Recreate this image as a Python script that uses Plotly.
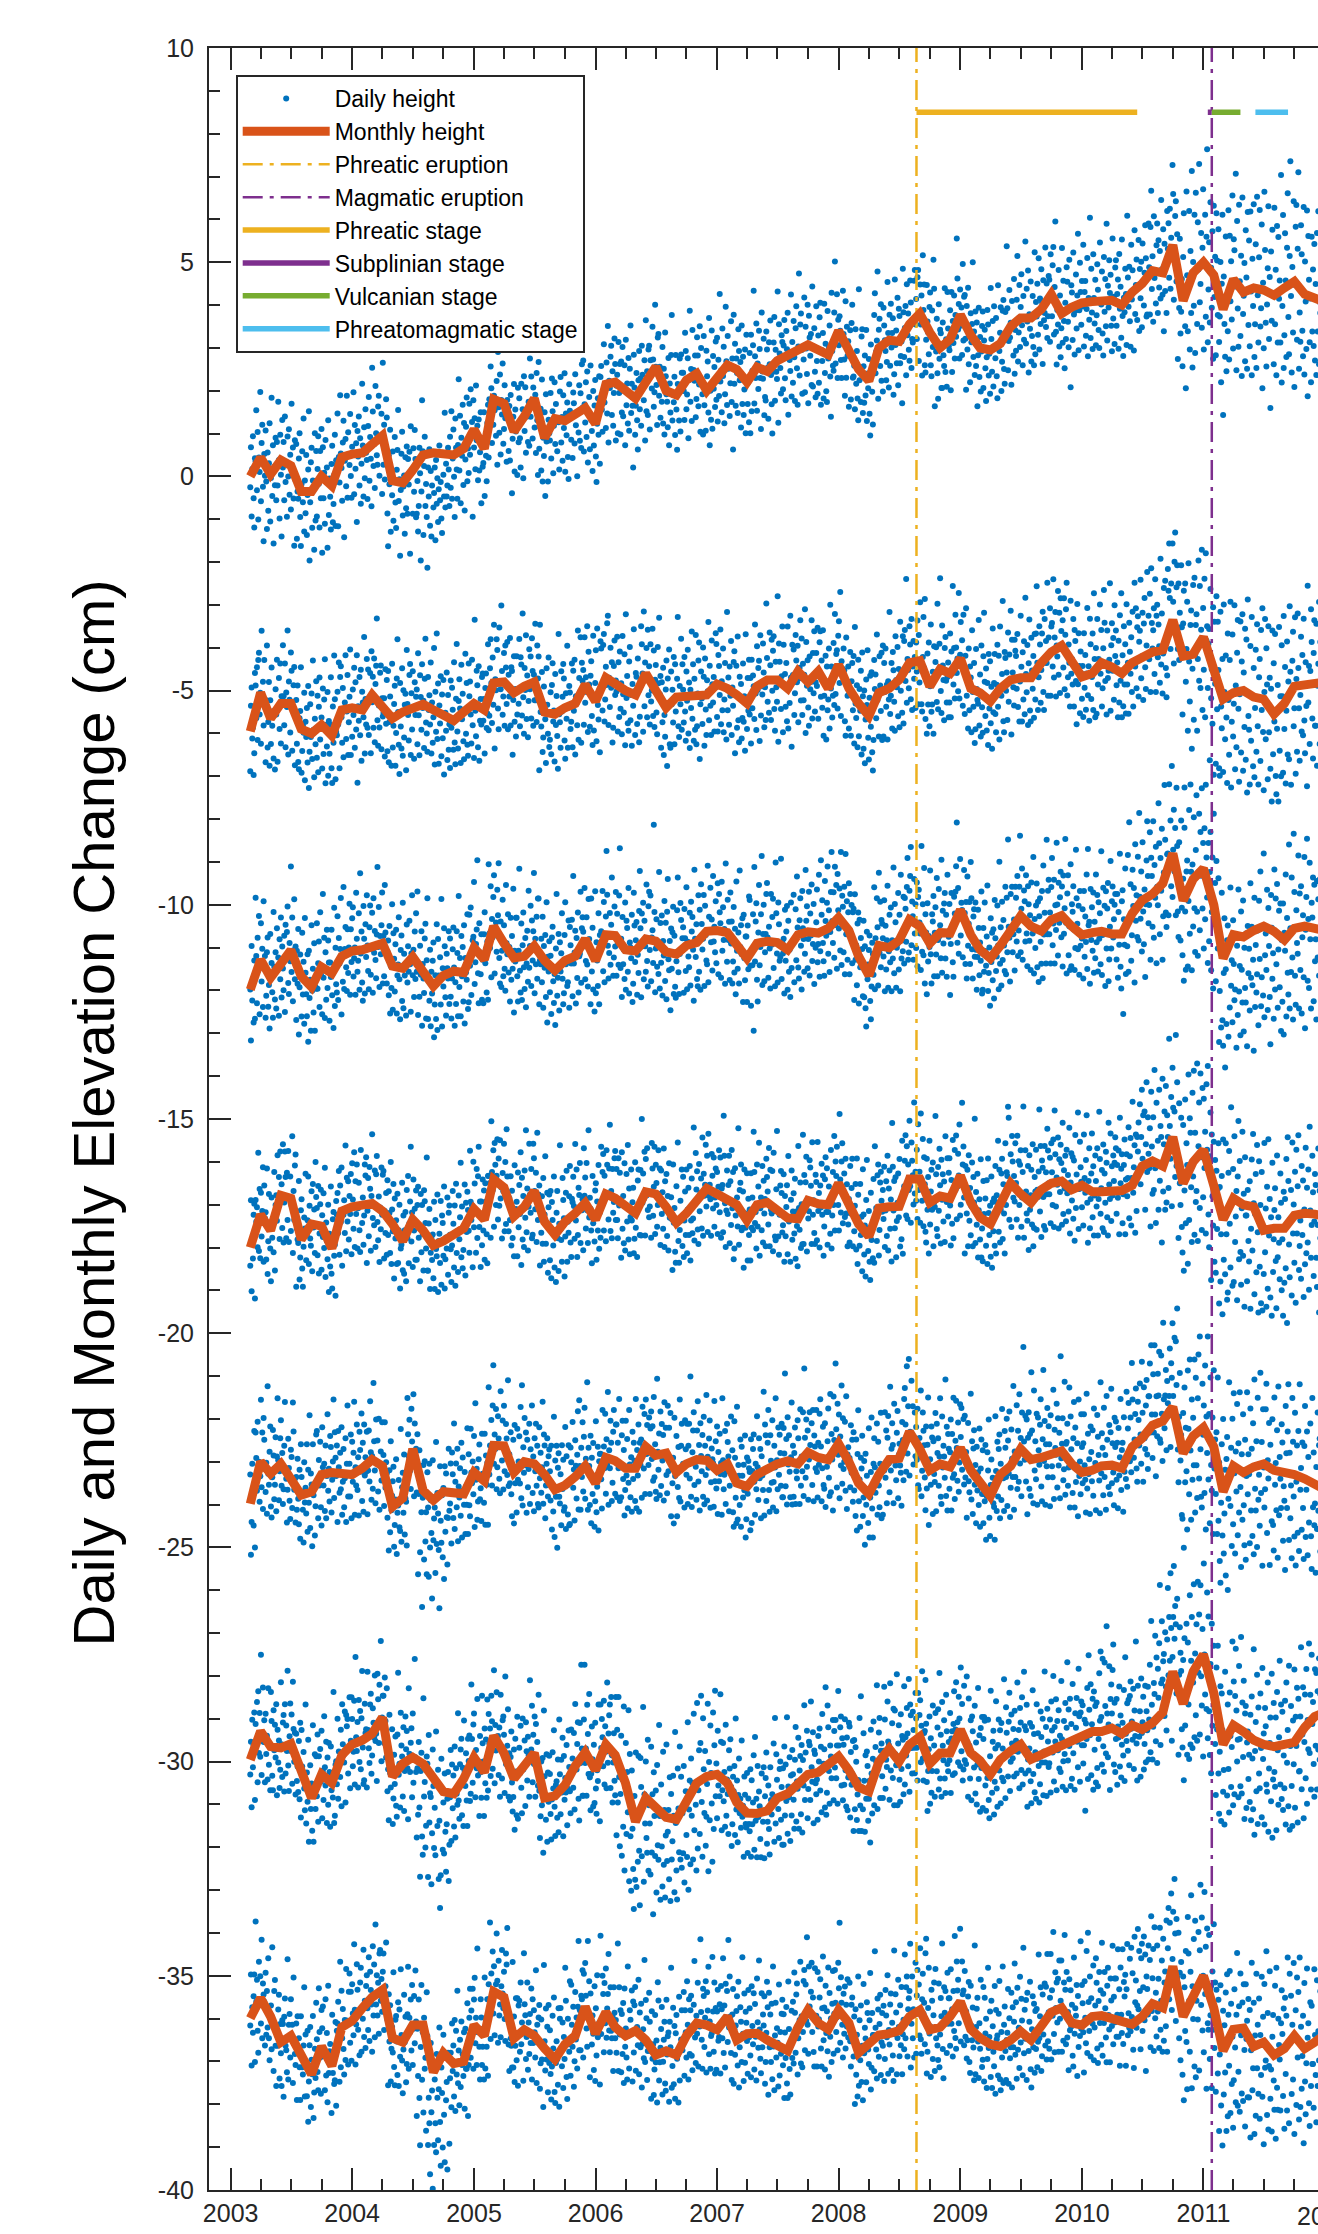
import numpy as np
import pandas as pd
import plotly.graph_objects as go

FONT = "Liberation Sans, Arial, Helvetica, sans-serif"
AXIS_COLOR = "#262626"
BLUE = "#0072BD"
ORANGE = "#D95319"

# ---------------- data ----------------
MONTH_START = "2003-03-01"
DAY_STEP = 2            # daily samples plotted every 2 days
CODE_CENTER = 50        # daily residual codes: (code-50)*step cm about the monthly value
CODE_STEP = 0.085

s1_monthly = [0.0, 0.44, 0.05, 0.38, 0.25, -0.35, -0.35, 0.0, -0.22, 0.45,
              0.52, 0.55, 0.75, 0.95, -0.1, -0.15, 0.15, 0.5, 0.55, 0.55,
              0.5, 0.65, 1.1, 0.65, 1.8, 1.7, 1.05, 1.4, 1.82, 0.9,
              1.35, 1.3, 1.45, 1.6, 1.23, 2.15, 2.2, 2.0, 1.82, 2.2,
              2.56, 2.0, 1.9, 2.25, 2.4, 2.0, 2.3, 2.6, 2.5, 2.2,
              2.55, 2.45, 2.7, 2.8, 2.95, 3.07, 2.95, 2.84, 3.4, 2.9,
              2.5, 2.23, 3.0, 3.18, 3.15, 3.55, 3.8, 3.36, 3.0, 3.2,
              3.77, 3.3, 3.0, 2.95, 3.1, 3.5, 3.7, 3.7, 3.9, 4.25,
              3.8, 3.95, 4.05, 4.08, 4.1, 4.11, 4.0, 4.3, 4.5, 4.8,
              4.75, 5.4, 4.1, 4.75, 5.0, 4.7, 3.9, 4.6, 4.3, 4.4,
              4.35, 4.23, 4.4, 4.55, 4.25, 4.15, 4.07]
s2_monthly = [-5.95, -5.05, -5.65, -5.3, -5.3, -5.9, -6.0, -5.8, -6.05, -5.45,
              -5.4, -5.45, -5.1, -5.35, -5.65, -5.5, -5.4, -5.32, -5.45, -5.6,
              -5.7, -5.5, -5.3, -5.45, -4.82, -4.8, -5.05, -4.9, -4.8, -5.5,
              -5.55, -5.4, -5.3, -4.86, -5.25, -4.7, -4.85, -5.0, -5.1, -4.6,
              -5.0, -5.4, -5.15, -5.15, -5.15, -5.1, -4.85, -4.95, -5.1, -5.3,
              -4.9, -4.75, -4.75, -4.95, -4.55, -4.8, -4.55, -4.95, -4.4, -4.95,
              -5.3, -5.59, -5.05, -4.95, -4.75, -4.35, -4.3, -4.9, -4.5, -4.6,
              -4.25, -4.95, -5.05, -5.25, -4.95, -4.75, -4.7, -4.7, -4.35, -4.1,
              -3.95, -4.35, -4.68, -4.6, -4.35, -4.45, -4.6, -4.35, -4.2, -4.1,
              -4.05, -3.35, -4.2, -4.15, -3.75, -4.5, -5.2, -5.05, -5.0, -5.15,
              -5.2, -5.55, -5.3, -4.9, -4.85, -4.8, -4.8]
s3_monthly = [-11.98, -11.28, -11.7, -11.4, -11.06, -11.67, -11.92, -11.45, -11.6, -11.2,
              -11.08, -11.05, -10.95, -10.9, -11.43, -11.48, -11.22, -11.55, -11.9, -11.65,
              -11.55, -11.58, -11.0, -11.28, -10.5, -10.9, -11.24, -11.2, -10.96, -11.3,
              -11.53, -11.3, -11.2, -10.8, -11.3, -10.7, -10.72, -11.05, -11.08, -10.8,
              -10.85, -11.1, -11.15, -10.95, -10.88, -10.62, -10.6, -10.65, -10.9, -11.25,
              -10.9, -10.85, -10.88, -11.05, -10.7, -10.63, -10.66, -10.55, -10.3, -10.6,
              -11.2, -11.65, -10.95, -11.0, -10.83, -10.35, -10.5, -10.9, -10.65, -10.66,
              -10.12, -10.7, -11.05, -11.25, -10.95, -10.6, -10.26, -10.5, -10.61, -10.35,
              -10.25, -10.5, -10.7, -10.65, -10.62, -10.68, -10.68, -10.2, -9.9, -9.75,
              -9.5, -8.8, -9.9, -9.4, -9.15, -10.0, -11.25, -10.7, -10.75, -10.6,
              -10.5, -10.62, -10.82, -10.55, -10.5, -10.55, -10.6]
s4_monthly = [-18.0, -17.23, -17.6, -16.78, -16.85, -17.81, -17.45, -17.5, -18.02, -17.15,
              -17.05, -17.0, -16.97, -17.15, -17.45, -17.85, -17.35, -17.6, -17.95, -17.85,
              -17.7, -17.55, -17.1, -17.35, -16.41, -16.6, -17.27, -17.05, -16.68, -17.4,
              -17.7, -17.4, -17.2, -16.96, -17.35, -16.75, -16.85, -17.05, -17.2, -16.7,
              -16.75, -17.05, -17.42, -17.2, -16.9, -16.62, -16.75, -16.88, -17.0, -17.37,
              -17.0, -16.95, -17.15, -17.31, -17.33, -16.9, -16.98, -17.0, -16.5, -16.95,
              -17.45, -17.74, -17.08, -17.05, -17.04, -16.4, -16.4, -16.95, -16.8, -16.85,
              -16.32, -16.95, -17.3, -17.45, -16.95, -16.5, -16.75, -16.95, -16.65, -16.5,
              -16.45, -16.65, -16.55, -16.7, -16.7, -16.7, -16.67, -16.55, -16.1, -15.98,
              -16.1, -15.42, -16.5, -16.0, -15.72, -16.55, -17.35, -16.85, -17.0, -17.05,
              -17.6, -17.55, -17.55, -17.25, -17.2, -17.22, -17.27]
s5_monthly = [-23.98, -23.0, -23.28, -23.05, -23.4, -23.78, -23.7, -23.3, -23.25, -23.3,
              -23.3, -23.15, -22.95, -23.1, -24.05, -23.85, -22.7, -23.67, -23.9, -23.7,
              -23.72, -23.75, -23.25, -23.45, -22.62, -22.63, -23.25, -23.0, -23.05, -23.3,
              -23.65, -23.55, -23.35, -23.1, -23.5, -22.9, -22.98, -23.15, -23.15, -22.65,
              -22.85, -22.8, -23.25, -23.05, -22.95, -22.97, -23.2, -23.05, -23.5, -23.58,
              -23.3, -23.15, -23.05, -22.98, -23.05, -22.78, -22.9, -22.95, -22.58, -23.0,
              -23.5, -23.75, -23.3, -22.95, -22.92, -22.3, -22.7, -23.2, -23.05, -23.12,
              -22.68, -23.2, -23.5, -23.8, -23.3, -23.1, -22.7, -22.95, -22.9, -22.85,
              -22.75, -23.05, -23.25, -23.2, -23.1, -23.08, -23.15, -22.65, -22.45, -22.15,
              -22.05, -21.72, -22.8, -22.4, -22.2, -22.65, -23.7, -23.1, -23.25, -23.12,
              -23.05, -23.2, -23.23, -23.3, -23.4, -23.55, -23.65]
s6_monthly = [-29.96, -29.29, -29.65, -29.68, -29.58, -30.2, -30.85, -30.3, -30.5, -29.85,
              -29.6, -29.5, -29.35, -28.97, -30.35, -30.05, -29.9, -30.05, -30.4, -30.7,
              -30.75, -30.4, -29.9, -30.25, -29.4, -29.8, -30.4, -30.1, -29.8, -30.85,
              -30.8, -30.55, -30.1, -29.78, -30.2, -29.6, -29.85, -30.5, -31.4, -30.85,
              -31.1, -31.3, -31.35, -30.95, -30.5, -30.35, -30.3, -30.5, -30.95, -31.2,
              -31.21, -31.15, -30.85, -30.75, -30.55, -30.3, -30.25, -30.05, -29.88, -30.2,
              -30.6, -30.7, -30.0, -29.7, -30.0, -29.6, -29.42, -30.05, -29.8, -29.8,
              -29.25, -29.8, -29.98, -30.3, -29.95, -29.75, -29.6, -29.95, -29.85, -29.7,
              -29.65, -29.55, -29.45, -29.3, -29.3, -29.22, -29.35, -29.15, -29.25, -29.1,
              -28.85, -27.9, -28.65, -27.9, -27.5, -28.4, -29.6, -29.15, -29.3, -29.5,
              -29.6, -29.65, -29.6, -29.55, -29.2, -28.95, -28.85]
s7_monthly = [-35.99, -35.52, -35.95, -36.55, -36.4, -36.88, -37.3, -36.65, -37.1, -36.2,
              -36.05, -35.75, -35.5, -35.33, -36.45, -36.55, -36.15, -36.15, -37.25, -36.8,
              -37.05, -37.0, -36.15, -36.4, -35.37, -35.5, -36.46, -36.26, -36.4, -36.7,
              -36.95, -36.6, -36.4, -35.72, -36.35, -35.85, -36.2, -36.4, -36.28, -36.5,
              -36.85, -36.75, -36.85, -36.4, -36.1, -36.15, -36.26, -35.95, -36.5, -36.35,
              -36.34, -36.5, -36.65, -36.75, -36.2, -35.8, -36.1, -36.25, -35.8, -36.1,
              -36.8, -36.55, -36.38, -36.35, -36.28, -35.95, -35.8, -36.26, -36.2, -35.95,
              -35.6, -36.25, -36.45, -36.6, -36.65, -36.5, -36.3, -36.5, -36.2, -35.85,
              -35.75, -36.1, -36.15, -35.95, -35.93, -36.0, -36.08, -36.13, -35.95, -35.65,
              -35.75, -34.78, -35.95, -35.5, -35.0, -35.75, -36.75, -36.25, -36.22, -36.65,
              -36.55, -36.85, -36.7, -36.4, -36.7, -36.55, -36.38]

s1_daily_codes = (
    "4758395261443655496341573350466838545942275145624835564053643749714458315247603955436650345746296148"
    "5539624451365847604253386749554128574663375048596643355261477039534460384956723147586240535134664257"
    "3952614836574463295844513760495533684252473856614045536439574862315043675147385460284955426638565047"
    "6144385250673958465331564960415436476952385743625048355563405246337159445038665347425861395049563470"
    "4253384760554132574964365146583950624437535970455130485864414952365743603853465527624950385644615337"
    "3847293652452140655128475536423319463851304527415035394626483643314052374232285044386135473841524636"
    "5541623849574433605246385169445935534862405733475664415038574361495226584553396247513658444960355245"
    "4660375348415762345045595338704351476440553263494258365147613943554678345149375742605133485463395650"
    "5138624755443659495233614658407250435437614556483953654251355744296047535841663850455734624952385546"
    "4457396152354860435473415049365862445139574863365246554034605149436838565342614750337245584154396250"
    "6338514657426035495343665148375944556241345057476339525543374861455038564266345149576041533847625534"
    "4952366147553858446243505735644652415939567046544831625340485744365563475138605249455634674253415960"
    "3756484461523943675045345859425036534762415638665449474059355244617243504855396146355351436040575248"
    "5247396358424656345069445337624951485538436055414763345752493865465139615458447035504263365647534260"
    "4461385545734952376047553442665139584950364562415328654657405349386155475234624457414859366351445039"
    "5836634249567140534762385144605547336550485938434261565137585264494130475562395347456933605248415754"
    "4153604438575262345049466739544158483656624535517143576050384946633755494261345852475339664051564437"
    "6247385441596335504756386445534037624952584433675147395569414860375346545042374761554838644357495335"
    "4956375863434851396146554236724750415961385444574664395248564135605347384459654349527136555845624150"
    "3861545047394466523757436048525635416749534462385957444650337058414955366147534340625638464551596247"
    "5443606237495847553366515841394863535044576141385646706234524958433662475554393957484564415037635348"
    "4758366341554962385044716046533857475239644355614935584663425137564853704451396045573448614253384956"
    "6039525545364861574349386753445840625146574135665048536037455962433954487255384660475134575042633749"
    "4155673846594253624837564450714358496335514760384556423768405248574364395346615235584749674153384455"
    "5437614944586339527045365147624155384668425948355343615746396350285654416548374959435269374861534456"
    "4966385356414862355145734059473763514456384660534237665049584135624756437139544861525743366745513859"
    "6143535738644955416847365248605339715446574235634856503467445259404962375446563861504453665741384863"
    "5138627245543665485041576339594656437051446234584553396749564160385247726435495862405334564867414756"
    "3262745143268057344667295639782453416628725136614877394458325470264963355781284659377052416227694455"
    "2867543972414863305776215946377033524469286244553973316158487925664235745338602776444958316754297241"
    "6334714926584573314062287548355972404568235234776141294656733855196243685031744257286937664752358124"
    "4570283765523161764230578346255436722149657134598026453769614033742859483573226654385027674158376533"
    "5429684174325047633857247143654628563270495138645922764563344875264156703958305281446237665129724855"
)
s2_daily_codes = (
    "3957624851384466524357375961445036674853415946385570424960375543644852395136584762344957436139525066"
    "5244613853497036565142645937485560334758466241395355673844514960365249574263354558496143705138544762"
    "4158375563464952386042576834504762395445536641375848726038514355466334596248415637505265424959374653"
    "6637504255486139574465305147594361365552487038534664415739495634624855416037535871463950445961385247"
    "4852366045574163384956513765424854593746617050413358464062385643525534675148415962375444605036574853"
    "5540644736585243614951385768454237595054466338524148673555447142593753486139564460345051466238574249"
    "3761485953426644385671474053595136634855423750664458413861525647396244503573484159553862364753465960"
    "4753385660454968374154625039574466325148625943376550487153414658386054446137524965415756334860425138"
    "6044514763395856427047375549644153364659485740625338524566453960515734745046613943575048366252446541"
    "4356395864485137614755443572504639604953625841365447673950565343456138594862365250447040574863345651"
    "5439634552486637595043576146386842515564397049455336605847415962384453486567375042604956343855624751"
    "4863375641594552386549446035714854413958624350365347685139565542605137444863585034674153495738624452"
    "3658475067436140535744386252704954395746613748425563345851664039574852436137594650557242395348664159"
    "5243614638574963405436524768445938554167374251606533485749426355366046395451704358473962504552374964"
    "6141375855476539524461384757503671445340564863395247596234505841664337554953384661455237695043574862"
    "4757396244535041674838614955573564425046605237483971564450416354396147586242365548447333605549425167"
    "3862515445574167395046705334624956384460534757364851644259385545527036614956433857485067405544613947"
    "5546623749586143534066374851593656444761397350564248563964425354385862457036514947615541376452485639"
    "4960375257446339715046553862415448593664524157374960536844385561476240353759515543664849386052456137"
    "6338574961455136524771434857396055443662504859405337664752416238565945733951484360554062374956455137"
    "5547613857446649383651624874415337594562395067434554376148525641683950577544386251473657604842495338"
    "4261385650744757396253465041683951604855376247435972485239614456533866494557354062514847704155386346"
    "3960725346594255386348614454377047556343385162455936675048547441386056475239634457506935615248436158"
    "5647624250384967533857446040725146593754664138615247563962445871503746605539485864423762505347693854"
    "4962385758467043546136504765425937635449574463385360724146555038674751446238595645377048625340575144"
    "5339624756415068445237655843496140725438573662445149664759384354706145503760474952733856624958416753"
    "6045533859426648723855416347583969445036615347574264385072496543586139545771445062385966474153724960"
    "4866397358515662447039606348575141754660384967526945374364587156426048715538667447596552704962587558"
    "3459681470435265297548375862244669327150586129447138643652743058416628734953365761257242503567216346"
    "2470396358312974484261307652396245276848335975244266384774295235617045254969335871285540673164227543"
    "4126643872503158284763357042265661336947754125527239645428704560355726733964487233284658267137523066"
    "5231744360284867365630725423495765394469265232705544294763375836684031564422774555335370614029586738"
    "3866274955723361407147295635645227684352367059244861337253406728765533624750266941593874314967285345"
)
s3_daily_codes = (
    "5036624753415842675138564762354960445337664851394557614248366251544639685344573860495236574663415549"
    "4358376148556241385247734459365064425138574863344756503962455437665148425935604752386749554362385044"
    "6244515739654850377047583654416246595337534962445035684157474061385548526634504369415258473956445163"
    "3856475962434851386653444760397149554136625338574865504338556142495937634854464153714960385247556439"
    "5241665348395457426137504467385952435660374851644736555941683954485037624353466048355167455239574462"
    "4668385043574961355248445963375370415246603954485762364553416738605049554271365247635844395652486141"
    "5943374856625135474161553871465438604957426336545048664035594561374852536840465155744338605246573950"
    "3857634953415539674844613652475864374951436053724639563848624155433766504758425338614456476935524961"
    "6145385274464059385362474155364857436844506139574654703752455841636338504956446237544857406633514758"
    "4454385962474149355671434860395547526345384157664950434461375853486039724851573755446240504663385356"
    "5248643944564337615053386747594252366941555043633857465148624059374955736147384556425366503944584762"
    "3956484261744553375946504263395856446738525148603641665747535838494461725334574860395548416544375963"
    "4762395153448258364856435041693755476038534964425837617048455334574656633955413848627145395064574952"
    "5537605243663851474459396253574834705146554038634259376652454860355749424168365450624753396547514458"
    "4150633860555237644557485136695042594853376147563945604254366748435339704955476138625044565638594767"
    "6648375244582671455661403453664449587438526039475263665140544837634957624350387258473961554546734052"
    "4953386147556239584450376345524861374957436652413854604735625148394467535740486138554963424758365046"
    "5362424766384570555946413763524857674355384960715246573964485936625247584168375653446238714958425563"
    "3860495741556338674953425962376047554852396544584136624953576143384759564266385247635539704862445756"
    "5247633856445267394959466138524772416055374849634257366845504762385653445967394158627043555139634856"
    "4462395860514838724356426639585336614552497047395856634150574465384862495243703956475861435538665049"
    "5833476152423860495562744156384964435250374861564259386647535942706046385557446350394861564352476638"
    "3956446352485670414653376149574458396652434761503873455539624657504362385944755148366050624449533962"
    "5543613946587240526338495754436448396156465338625048693752445763405836545947416137684955503872465861"
    "4652385967434961385446705339594855624458366145527148375964425038673956546149384471605346583962475049"
    "5738624455486640735253366248574561395343664760395848554172384962505735614657643743527046596349545861"
    "5043613856477241355962285447683952416634754958374462525731694855406239745145583666473853294961705542"
    "4767326055417038584963315244726136574865294153776242385850336946594174385162455733685247406655397248"
    "3556287047315861264469357652255437674230587341264965336048723957286136735342246740597032486327754556"
    "2962433872274155316833264661204732555922483063364326544232355019472863354223574132602447363251205340"
    "4528633751354217592946333850245741652836503170254248386027554632196051374426673459416329455837602550"
    "3360245247682956413573285038644225766037295546437028593861264753366922495874355233684728575364306241"
    "4725634258376451246955327240594835683047265963387350295645236833715428605137664326725340384976295162"
)
s4_daily_codes = (
    "4563385147596236544852416740573856445163375849554267384760514536594852446639575043614755386249534164"
    "3748625539574463385056414867355244596237535049663945586142374856536840475163395546445937614954426758"
    "5542613748566038534759446636515247623854456743395860485137634955446138574762355049534468395846574153"
    "4859376252446539574861384956433765504552394761586334485741605437526946504459385863474254365145624960"
    "6137504455386247595342673954486135574651396344536037484966425741535839644562384955704452376147533958"
    "3954624851366044574939615852457039435660384852465341623857494764365052446138575546653745514862395658"
    "5046374762534158366445513859475368425639445062375749605544386652475134634557493861425970485537554361"
    "4758396055463862514449346652475837605443516139584563475036544962385740665346385549614257445039645152"
    "5439624756486534584153396047714355385063494456373863595045553666424960385447574462395268444958365461"
    "4362385954476641503756624940537148453962565135465864395047576342385453605243694862384457556139494851"
    "3765525743614839704656534738624951445860395547654252386348566140554937625850435769415239584649616344"
    "5844396148575236654453406238505946674155374962485357394364465038596252445638704755486138594962455043"
    "4650386457445263395853414762505736604854446639574959425338624748575137665054423960517245394856486241"
    "6038485644623951574463374856414570394963535842386047525639643754485162455938654851473761554660414957"
    "4756395262456038535441736249374758465462385543654959353860475052447139545661434858376452485163395646"
    "5339634852437059454838614455673649524360395647513862575344653859484761396650434256725043384957615546"
    "4862385645535940674950385563445257466139524837705347604254436838574955623650454761595438664751423958"
    "5640674853385549614758364457634860394855514265384759446337565260484437695142566139535846624755384451"
    "3960475462385348556143683958504461475237655645533960715246574338624953445835674850415962374457605249"
    "5547613949574264385560445235736149574458364651594763395241683754485562405939544766483860555143714652"
    "4458396547523868504461375655423962485736674453594861385047725641395846635337604956435438675049614557"
    "6148375543663952574661384756506439424870535844366052475938634554414961385750734357486239525544663947"
    "3860514957446239685347554163385648574460365250674259394858624055473661445352716840495838635646524561"
    "5343663859475862414956743850625347456037634852594466384357536139504855724462375856484062395347655950"
    "4757396153446238705843514962375647605538664153485739614954446738526047594258366545534970384962555144"
    "5139645248577147365362404855664357384960534662384872594451564063395547615843386952486642574960535865"
    "6244574861387052566041495764385360475266415863395273485561376443585462496745587152645065385673476252"
    "4859326954416242754833664957387146615829744356653872406450367753446131695847573978426556357250446838"
    "3166264873396155227434625843286946753058394277255163347148286737644555276850734233587024644739622957"
    "2654384971275933466224723952357146283057634331754926582767384552225673356237284970365322634747295440"
    "3557224463387051264859326743216940573066285138744456296234754858315326683847556141287042534636655733"
    "4726603558396924756342334957287045533762266845587235414832634459275136683957426229745138476656334861"
    "5838304768235744627034493661285255427632674058244870394656332759684135633847752853446036594227714953"
)
s5_daily_codes = (
    "5836456153447038585142614950394667435837625648455339745047566341384962554347603752685140485762445339"
    "4355674850384761534439585642716347503855466049425738645551463759485244633956477140555235634952384661"
    "6248385447594136635247534058384966455142605739485370436154495837625245564663394857414960375369445053"
    "4461385948567039524762445337605549654157386248534960354758446652395142715547386149574363385054466248"
    "5339624451484755386043684953576139455263374648554241693853574662405049376454485844396152476537574950"
    "3854274961335244184857315836442755482960375041236139454830663852443418574236493251265739554330436245"
    "4758366155436940535846623752495744643860514756395247683955413862504753446035694851374256604548396352"
    "5144633857495538664250475739617245534960384458524137655046573861434956524268395547614438525936634751"
    "3962485357446540713854476249583656434861395450664252375748614455393863495645527042615838475360445561"
    "5547623951447037584862345660484553396149574344663858504261393758544965475238605344566841715038554762"
    "4358664152497338555044633957476152384567424960375658514436634953476240554868375247615539445864504160"
    "6040554867395142596347553744634858394666514253386047575241693955486238574552366150445937634856494558"
    "3755624958436644534038715146563962415848553764505744396345574861385247543665495160384657437042556149"
    "5049386254476139556146744137525863435048395866445436605147574062385446683951485661374456535240694758"
    "4562385547604952366851434759394861565237444863535942386757463971405552446238605347564964364158485755"
    "5438634051576148395346665243604957385548447137625941505766443859524662384555496837514360475853446140"
    "4059527443563862495747405166385541536039484662575039654452486138735443594656374861524958416338565347"
    "6346395448626653384759434260375048556445406841575036635149725438614758355244663957485061426837525449"
    "5143604756396448534162375870455138575463414959366147555042683849567146385360524548643959474153673851"
    "3952476345583856624941704753605438655048445763395154484637605544596252396844577038504864495741536048"
    "5647614039534866374460555148396245577035505346625938584945643761535744526841396349555247744261385955"
    "4454633859476948365263504157384662536144495840654855375163474450714258385661465539604853446538546247"
    "5939474564385062577144395360535548473866514059445761385343685049406255476339574865364460524772385447"
    "4862395541654653376049785247594461355663425740745850386947554462376152485966423855744960375347634458"
    "5336615047446838575249634059465537764852594245693852566144497138635450425767386045525838704953446657"
    "4758665248397145604953386255476143675052394964585346377348595542664753386957504461425971455648396355"
    "6246573961485369445557386449524771395562484658437363504752596644386055486551437157386450475966423858"
    "5867487253416448725336584763576945446852397756485764426151495366396258735347694668567751426072485533"
    "3261246842574529685234714627603855427129664233587036754431286248563267225343754159296945385826714452"
    "3754266942583125476338703344562759652341734939552863347048265443673158397246245537664130592649724455"
    "4829663855316226744438572869414733754256226549384365723151466324575036643528704652396126733854484063"
    "5831464223685540617432563847277159443367254858346229764753366042285970344763295638516736277444593945"
    "2655387043616433485729574672365024634852395568283343715738266847593260384153746229655034484667253855"
)
s6_daily_codes = (
    "4655376148546339524758366144554371384962475336594853416645503865574238604956476237554652394468514257"
    "5938624355487044375261485839675445533660475144584263376151485545396843574966385259475441703853624755"
    "4461375549574862385143665247593957446153386048524675394155564260385149445736645350486237615557424963"
    "3851635744486239745247553761445842566948383960525337675146425861394457534966485037625543594871385056"
    "5643614939584652386751475663374456486142395875475038645552416037486354594733695146545839624350775046"
    "2847365638194853302568414527335250236238464521355848314229634937562642182759503447335539284148562636"
    "4962375846554163385750476844395458614053376652485744376149563840705543596248395247664553386050437158"
    "5338624759437045564852396154414868375346624950445738665143596055397147485262385744566349414558366152"
    "4067395255486144376349505739625446585338704951634255476038584753416652394560486135745650446238574961"
    "5645384962526847395354446040715342574863365846524861394965554337604852445938675049566241355847745138"
    "3859744751386355446648394962534057416345385047685136614957524462395548386745535861416650374856433966"
    "2857376644254763305138712649613653427023584631644837265734693251396842276153344875275143603935663048"
    "4329673854216048375527624036734825594231683752284570384652336127573944625130744936286453417039573247"
    "3660284953413572264856336241502969375044267232485936617443286652405731394870245438645142266735587344"
    "5338624750447259374861455338664151473659546249384457536041734856395262475143674952386055474661395447"
    "4562385947536640714854386349565243386150476237545966414757453862534951486538724362555047395860445336"
    "5736634458487139524960375544625346385766405149633854584261375447694356506238465958437052486136565547"
    "4448376053624557396649505438713642666048395552465162385747604453376853495861425538574664504059394863"
    "6237554649583863446157414852386945753850446653396048615742485336675544596138465450713748586240535546"
    "4053675839474563525136684449574261386452497438556045396348575641663952476053446837615849425954474062"
    "5547386249566043536844385159736145374854633957424866515538614945576240724355386452485943396656474553"
    "4861395456445867385063475241595340674457363962485447715338655243593760564946634155384970455736594862"
    "3756626147405249654338557350455962394853664237546147583860455344725137625549435866394760524856436150"
    "5142674854386056436339497055425865375047536044385969465741523864495647374262554860395173485637615245"
    "4658386355497041565263385749604453436852394657486238547245594962385540664751375854614942695638576048"
    "5943485530544862377156496338525934614557365840354866537254417046396957447854425167335862546673405738"
    "4758365249634155384753446237715048564357395862495146603854477345366250485537644952593946624155486040"
    "5166427855404961587445683962546985415875596466497257457073496553776231546579596863447054365871645943"
    "3862296844517236584126713053652947743255386331704561286944365722755039483567277145335828694152634636"
    "2257406342314866296454374328705152366138265947334473286231587154404632684835763358436426555729475037"
    "4633572862453175244755366827594238644930714653286055393767264451583570254162433958276549345273396135"
    "5932473862286745543371264960382756447032574965286242385372334861254659366629524473405630674854372863"
    "4262305741663755297143583452266847753359384826634055714938623254287045613344587624504966355931714858"
)
s7_daily_codes = (
    "4862375346566238714955413560485643663954514937624557476644385053416948355760423852495963405547385655"
    "3557624946407138535644604953376648454259386152554738615047455369395652446237485863415450663845574962"
    "5243386654473760556148493863425940724854565137644853454662394951574835683960475544375241665050385863"
    "4458396052467153384962554448375761385047664252395659474161385752483564455939704856435238606147534455"
    "6039485163445537624959384753466842375556494161385946705245364863505739445366385248574361394958456551"
    "2549365730174461354826523841215947304336225839451852304836285543264057311946392455332049374218535128"
    "4653386148554162375947704453385643614952465837594848663539526041544760385763455239714851473860554247"
    "5238664154476039524869375547614457384952665336604548395363514757443862596946374155504842714256384861"
    "4461375958446346524936715754424863395245564863386048575144683753495562394658475134735244614756386249"
    "5846394862536741384955504364375760494456385246716241355750486539645347583643624955415876464938535260"
    "3659476253443968485738615247555040633757446649525336714448605539584762435155664539614947533861544752"
    "4350733861485740564559376347524438695041575349613658445762395051466438554860374953457244615639474963"
    "5547386249533946614854377065434852566238475358413964495455365851744147634258385661495037664352495746"
    "4862395751446553386045576141374855674639524761385049735346386058445262375954664251384749705544633856"
    "3955614748573862524466405336594957437147615040395764385346545862436637485955447150376142565348396249"
    "5744386352476140584937655346705143396148575462384452665935634857446041725038536247555139674254485964"
    "4660375548624137695645385261485740655443596237475152684053394458613957477046386251495563445742386551"
    "5238644951576243385470475639624955446737604853415766384961524448396356744159524637584760435549624650"
    "6145385557474960366244553871415948634252376647545139615848445669374358525040735246386057445361394856"
    "4758374362554966395147586140534437724960553848645143574662384953416744586139525557703648614452374963"
    "3854614957436742385360495246717538445667495137615842546338664750454162394858537344366151574940624855"
    "5542634852395746684037615356444970394861525338664855424759634138625147564536734053586149395447665042"
    "4464386153573846714952594162385548446637605253425968413854477240566147395052643856454863375948557146"
    "5837624551406547595338734456486139635147556642375362486041584455394670475361384259485262455737664250"
    "4054663756497244396150574658386347526338494157705540644653376248594955413868475452613658445047734961"
    "5648376252456840735446613955504864384753665941375462485742703956486252443859645147386155487043566149"
    "6145527046593865524770446157633859724753496848715264433874566249537452685741667046587249673561544766"
    "4962387448576537714653416649583972445263386941576045743855664162497038526548745935634759734462386553"
    "3461275846684330726249355778255344663171284953386224577542663550297345581963374470364856286044733957"
    "2755473264284968355224613857446628713254406627573548233661453054712938562765483257306244236247523158"
    "3660254973384462265331704456376229524168355722664345753058264773384629556143356927744135605147335766"
    "5437612864435933755226674861345338702349573166446227753456394859246841324672535735276138604444327052"
    "4128673853452662326044772751354965283852704159264861363457753142663853297046574235623648285576406037"
)

eruption_names = ["Phreatic eruption", "Magmatic eruption"]
eruption_dates = ["2008-08-22", "2011-01-26"]
eruption_colors = ["#EDB120", "#7E2F8E"]

stage_names = ["Phreatic stage", "Subplinian stage", "Vulcanian stage", "Phreatomagmatic stage"]
stage_starts = ["2008-08-22", "2011-01-14", "2011-01-26", "2011-06-06"]
stage_ends = ["2010-06-16", "2011-01-26", "2011-04-22", "2011-09-12"]
stage_colors = ["#EDB120", "#7E2F8E", "#77AC30", "#4DBEEE"]
stage_level = 8.5

y_ticks = list(range(-40, 11, 5))
Y_RANGE = [-40, 10]
X_RANGE = ["2002-10-28", "2011-12-11"]

# ---------------- figure ----------------
W, H = 1318, 2234
ML, MR, MT, MB = 209, 0, 48, 44

series_monthly = [s1_monthly, s2_monthly, s3_monthly, s4_monthly, s5_monthly, s6_monthly, s7_monthly]
series_codes = [s1_daily_codes, s2_daily_codes, s3_daily_codes, s4_daily_codes,
                s5_daily_codes, s6_daily_codes, s7_daily_codes]


def decode(codes):
    digits = "".join(ch for ch in codes if ch.isdigit())
    vals = [int(digits[i:i + 2]) for i in range(0, len(digits) - 1, 2)]
    return (np.array(vals, dtype=float) - CODE_CENTER) * CODE_STEP


fig = go.Figure()

# daily heights
for k, (mon, codes) in enumerate(zip(series_monthly, series_codes)):
    month_dates = pd.date_range(MONTH_START, periods=len(mon), freq="MS")
    dev = decode(codes)
    ddates = pd.date_range(MONTH_START, periods=len(dev), freq=f"{DAY_STEP}D")
    days = (ddates - month_dates[0]).days.values
    idx = np.clip(np.rint(days / 30.4375).astype(int), 0, len(mon) - 1)
    yvals = np.asarray(mon, dtype=float)[idx] + dev
    fig.add_trace(go.Scatter(
        x=ddates, y=yvals, mode="markers",
        marker=dict(color=BLUE, size=6, line=dict(width=0)),
        name="Daily height", showlegend=(k == 0), legendrank=1, hoverinfo="skip"))

# eruption lines
for i, (nm, d, c) in enumerate(zip(eruption_names, eruption_dates, eruption_colors)):
    fig.add_trace(go.Scatter(
        x=[d, d], y=Y_RANGE, mode="lines",
        line=dict(color=c, width=2.5, dash="20px,7px,4px,7px"),
        name=nm, legendrank=3 + i, hoverinfo="skip"))

# stage bars
for i, (nm, s, e, c) in enumerate(zip(stage_names, stage_starts, stage_ends, stage_colors)):
    fig.add_trace(go.Scatter(
        x=[s, e], y=[stage_level, stage_level], mode="lines",
        line=dict(color=c, width=5.5),
        name=nm, legendrank=5 + i, hoverinfo="skip"))

# monthly heights (on top)
for k, mon in enumerate(series_monthly):
    month_dates = pd.date_range(MONTH_START, periods=len(mon), freq="MS")
    fig.add_trace(go.Scatter(
        x=month_dates, y=mon, mode="lines",
        line=dict(color=ORANGE, width=9),
        name="Monthly height", showlegend=(k == 0), legendrank=2, hoverinfo="skip"))

plot_w = W - ML - MR
plot_h = H - MT - MB
x0, x1 = pd.Timestamp(X_RANGE[0]), pd.Timestamp(X_RANGE[1])
frac_2012 = (pd.Timestamp("2012-01-01") - x0) / (x1 - x0)

fig.update_layout(
    width=W, height=H,
    margin=dict(l=ML, r=MR, t=MT, b=MB, pad=0),
    paper_bgcolor="white", plot_bgcolor="white",
    font=dict(family=FONT, size=25, color=AXIS_COLOR),
    showlegend=True,
    legend=dict(
        x=(235.7 - ML) / plot_w, y=(H - MB - 75) / plot_h,
        xanchor="left", yanchor="top",
        bgcolor="white", bordercolor=AXIS_COLOR, borderwidth=2,
        font=dict(family=FONT, size=23, color="black"),
        itemwidth=87, traceorder="normal", itemclick=False,
    ),
    xaxis=dict(
        type="date", range=X_RANGE,
        tickmode="linear", tick0="2003-01-01", dtick="M12", tickformat="%Y",
        ticks="inside", ticklen=22, tickwidth=2, tickcolor=AXIS_COLOR,
        ticklabelstandoff=0,
        showline=True, linewidth=2, linecolor=AXIS_COLOR, mirror="ticks",
        showgrid=False, zeroline=False,
        minor=dict(dtick="M3", tick0="2003-01-01", ticks="inside", ticklen=11,
                   tickwidth=2, tickcolor=AXIS_COLOR, showgrid=False),
        tickfont=dict(size=25, color=AXIS_COLOR),
    ),
    yaxis=dict(
        range=Y_RANGE, tickmode="array", tickvals=y_ticks, ticktext=[str(v) for v in y_ticks],
        ticks="inside", ticklen=22, tickwidth=2, tickcolor=AXIS_COLOR,
        ticklabelstandoff=8,
        showline=True, linewidth=2, linecolor=AXIS_COLOR, mirror=False,
        showgrid=False, zeroline=False,
        minor=dict(dtick=1, tick0=0, ticks="inside", ticklen=11,
                   tickwidth=2, tickcolor=AXIS_COLOR, showgrid=False),
        tickfont=dict(size=25, color=AXIS_COLOR),
    ),
    annotations=[
        dict(text="Daily and Monthly Elevation Change (cm)", textangle=-90,
             xref="paper", yref="paper", x=(93 - ML) / plot_w, y=(H - MB - 1113.5) / plot_h,
             xanchor="center", yanchor="middle", showarrow=False,
             font=dict(family=FONT, size=58, color="black")),
        dict(text="2012", xref="paper", yref="paper", x=frac_2012, y=0,
             xanchor="center", yanchor="top", yshift=-10, showarrow=False,
             font=dict(family=FONT, size=25, color=AXIS_COLOR)),
    ],
)

fig.write_html("out.html", config={"displayModeBar": False},
               post_script="document.body.style.margin='0';document.body.style.overflow='hidden';")
